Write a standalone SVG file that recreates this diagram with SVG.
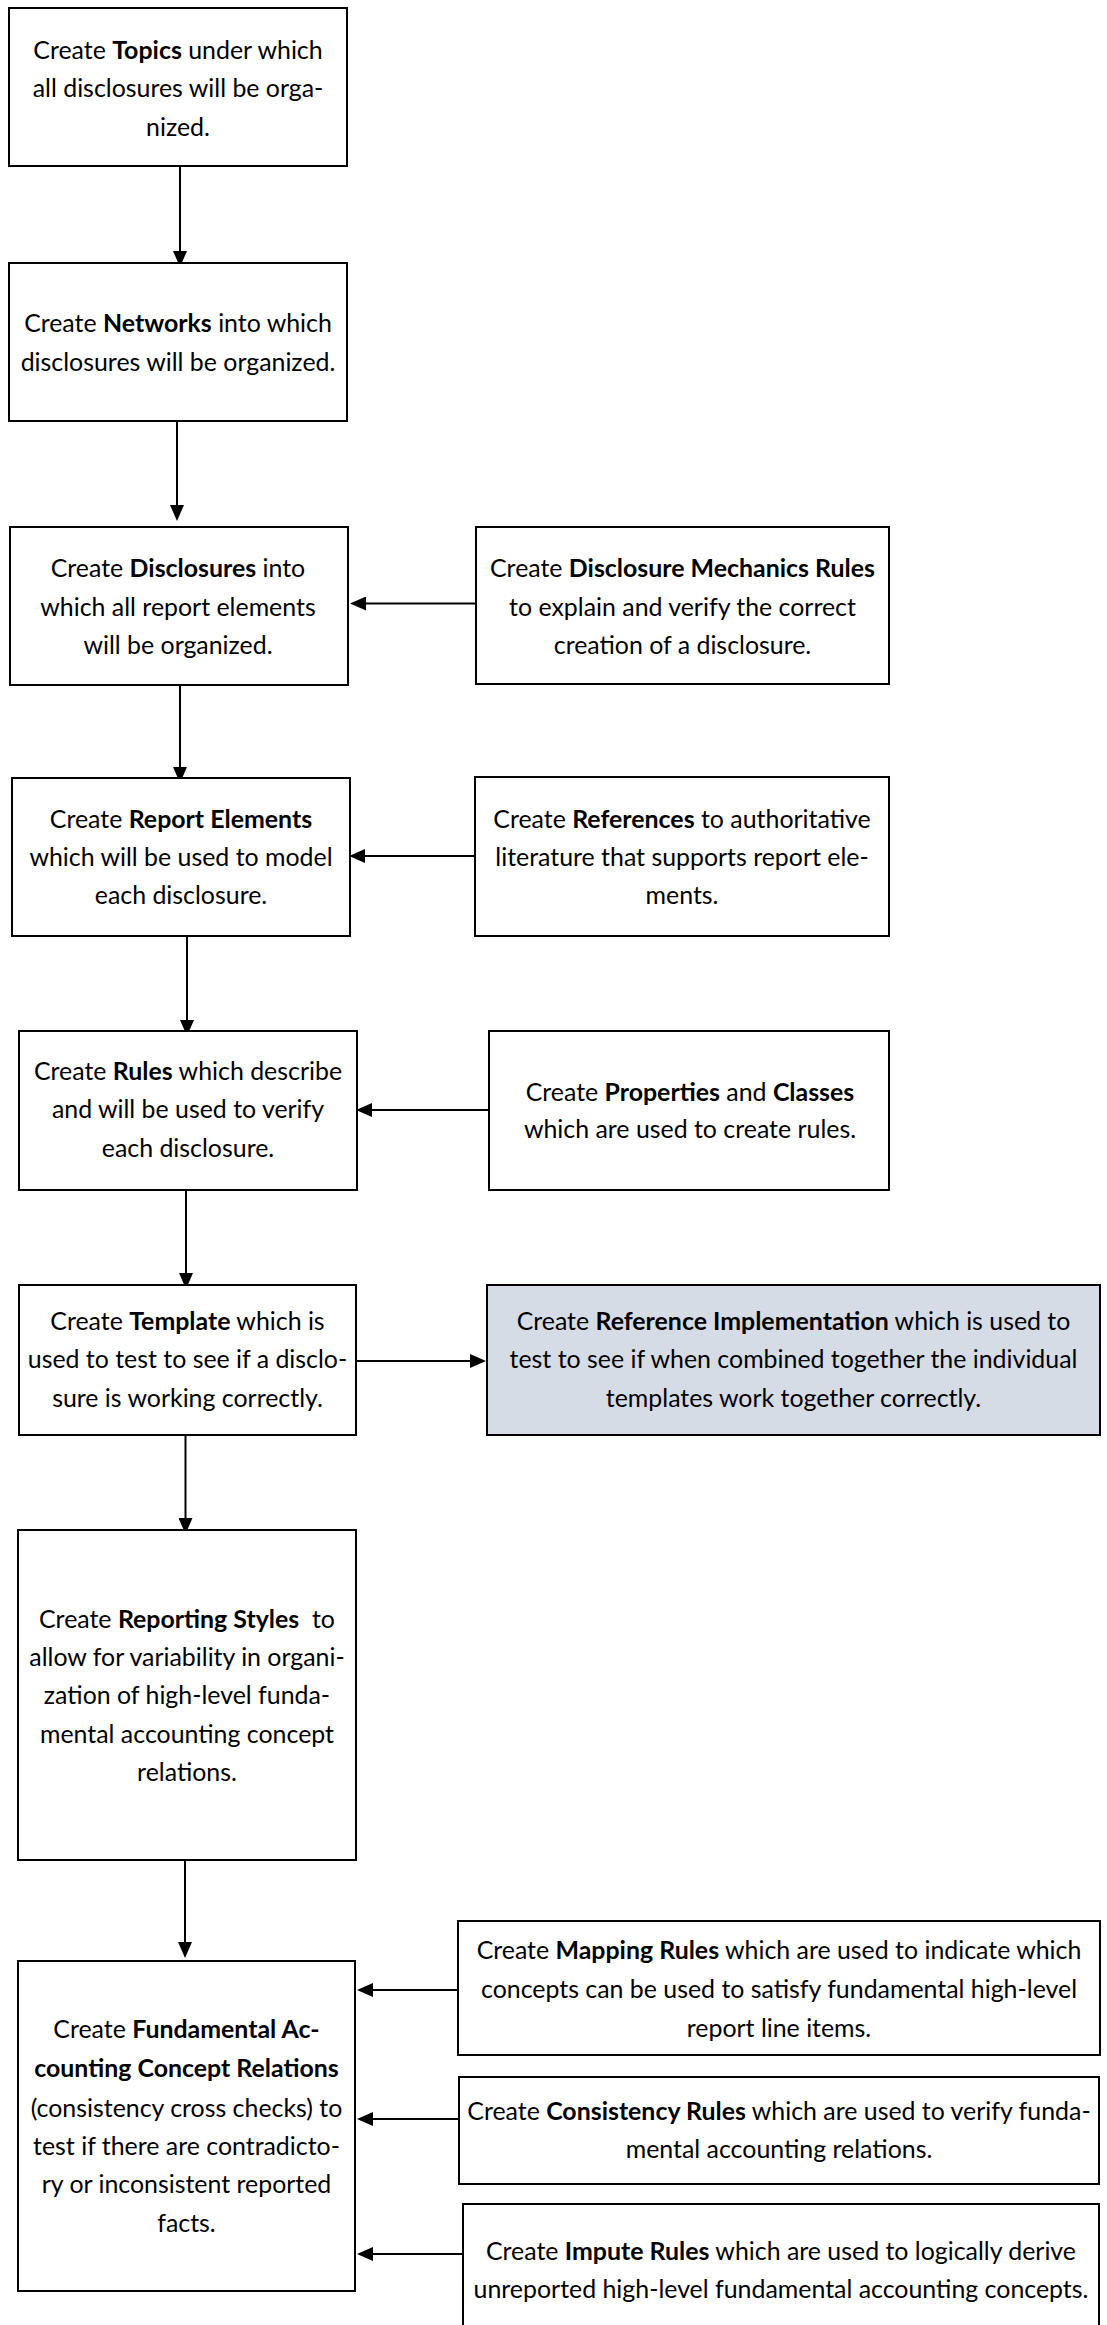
<svg xmlns="http://www.w3.org/2000/svg" width="1107" height="2325" viewBox="0 0 1107 2325">
<style>
.box{fill:#fff;stroke:#000;stroke-width:2}
.hl{fill:#d6dce5}
text{font-family:Lato,"Open Sans","Liberation Sans",sans-serif;font-size:24.9px;fill:#000;text-anchor:middle}
.b{font-weight:bold}
.c{fill:none;stroke:#000;stroke-width:2}
</style>
<defs>
<marker id="ah" markerUnits="userSpaceOnUse" markerWidth="16" markerHeight="14" refX="8" refY="7" orient="auto">
<path d="M0,0 L16,7 L0,14 z" fill="#000"/>
</marker>
</defs>
<rect width="1107" height="2325" fill="#fff"/>

<g id="connectors">
<line class="c" x1="180" y1="166" x2="180" y2="259" marker-end="url(#ah)"/>
<line class="c" x1="177" y1="421" x2="177" y2="513" marker-end="url(#ah)"/>
<line class="c" x1="480" y1="603.5" x2="358" y2="603.5" marker-end="url(#ah)"/>
<line class="c" x1="180" y1="685" x2="180" y2="775" marker-end="url(#ah)"/>
<line class="c" x1="480" y1="856" x2="357" y2="856" marker-end="url(#ah)"/>
<line class="c" x1="187" y1="936" x2="187" y2="1028" marker-end="url(#ah)"/>
<line class="c" x1="489" y1="1110" x2="364" y2="1110" marker-end="url(#ah)"/>
<line class="c" x1="186" y1="1190" x2="186" y2="1281" marker-end="url(#ah)"/>
<line class="c" x1="357" y1="1361" x2="478" y2="1361" marker-end="url(#ah)"/>
<line class="c" x1="185.5" y1="1435" x2="185.5" y2="1526" marker-end="url(#ah)"/>
<line class="c" x1="185" y1="1860" x2="185" y2="1950" marker-end="url(#ah)"/>
<line class="c" x1="458" y1="1990" x2="365" y2="1990" marker-end="url(#ah)"/>
<line class="c" x1="459" y1="2119" x2="365" y2="2119" marker-end="url(#ah)"/>
<line class="c" x1="463" y1="2254" x2="365" y2="2254" marker-end="url(#ah)"/>
</g>

<g id="topics">
<rect class="box" x="9" y="8" width="338" height="158"/>
<text x="178" y="59">Create <tspan class="b">Topics</tspan> under which</text>
<text x="178" y="97">all disclosures will be orga-</text>
<text x="178" y="136">nized.</text>
</g>

<g id="networks">
<rect class="box" x="9" y="263" width="338" height="158"/>
<text x="178" y="332">Create <tspan class="b">Networks</tspan> into which</text>
<text x="178" y="371">disclosures will be organized.</text>
</g>

<g id="disclosures">
<rect class="box" x="10" y="527" width="338" height="158"/>
<text x="178" y="577">Create <tspan class="b">Disclosures</tspan> into</text>
<text x="178" y="616">which all report elements</text>
<text x="178" y="654">will be organized.</text>
</g>

<g id="mechanics-rules">
<rect class="box" x="476" y="527" width="413" height="157"/>
<text x="682.5" y="577">Create <tspan class="b">Disclosure Mechanics Rules</tspan></text>
<text x="682.5" y="616">to explain and verify the correct</text>
<text x="682.5" y="654">creation of a disclosure.</text>
</g>

<g id="report-elements">
<rect class="box" x="12" y="778" width="338" height="158"/>
<text x="181" y="828">Create <tspan class="b">Report Elements</tspan></text>
<text x="181" y="866">which will be used to model</text>
<text x="181" y="904">each disclosure.</text>
</g>

<g id="references">
<rect class="box" x="475" y="777" width="414" height="159"/>
<text x="682" y="828">Create <tspan class="b">References</tspan> to authoritative</text>
<text x="682" y="866">literature that supports report ele-</text>
<text x="682" y="904">ments.</text>
</g>

<g id="rules">
<rect class="box" x="19" y="1031" width="338" height="159"/>
<text x="188" y="1080">Create <tspan class="b">Rules</tspan> which describe</text>
<text x="188" y="1118">and will be used to verify</text>
<text x="188" y="1157">each disclosure.</text>
</g>

<g id="properties">
<rect class="box" x="489" y="1031" width="400" height="159"/>
<text x="690" y="1101">Create <tspan class="b">Properties</tspan> and <tspan class="b">Classes</tspan></text>
<text x="690" y="1138">which are used to create rules.</text>
</g>

<g id="template">
<rect class="box" x="19" y="1285" width="337" height="150"/>
<text x="187.5" y="1330">Create <tspan class="b">Template</tspan> which is</text>
<text x="187.5" y="1368">used to test to see if a disclo-</text>
<text x="187.5" y="1407">sure is working correctly.</text>
</g>

<g id="reference-implementation">
<rect class="box hl" x="487" y="1285" width="613" height="150"/>
<text x="793.5" y="1330">Create <tspan class="b">Reference Implementation</tspan> which is used to</text>
<text x="793.5" y="1368">test to see if when combined together the individual</text>
<text x="793.5" y="1407">templates work together correctly.</text>
</g>

<g id="reporting-styles">
<rect class="box" x="18" y="1530" width="338" height="330"/>
<text x="187" y="1628">Create <tspan class="b">Reporting Styles</tspan> &#160;to</text>
<text x="187" y="1666">allow for variability in organi-</text>
<text x="187" y="1704">zation of high-level funda-</text>
<text x="187" y="1743">mental accounting concept</text>
<text x="187" y="1781">relations.</text>
</g>

<g id="fundamental-relations">
<rect class="box" x="18" y="1961" width="337" height="330"/>
<text x="186.5" y="2038">Create <tspan class="b">Fundamental Ac-</tspan></text>
<text x="186.5" y="2077" class="b">counting Concept Relations</text>
<text x="186.5" y="2117">(consistency cross checks) to</text>
<text x="186.5" y="2155">test if there are contradicto-</text>
<text x="186.5" y="2193">ry or inconsistent reported</text>
<text x="186.5" y="2232">facts.</text>
</g>

<g id="mapping-rules">
<rect class="box" x="458" y="1921" width="642" height="134"/>
<text x="779" y="1959">Create <tspan class="b">Mapping Rules</tspan> which are used to indicate which</text>
<text x="779" y="1998">concepts can be used to satisfy fundamental high-level</text>
<text x="779" y="2037">report line items.</text>
</g>

<g id="consistency-rules">
<rect class="box" x="459" y="2077" width="640" height="107"/>
<text x="779" y="2120">Create <tspan class="b">Consistency Rules</tspan> which are used to verify funda-</text>
<text x="779" y="2158">mental accounting relations.</text>
</g>

<g id="impute-rules">
<rect class="box" x="463" y="2204" width="636" height="140"/>
<text x="781" y="2260">Create <tspan class="b">Impute Rules</tspan> which are used to logically derive</text>
<text x="781" y="2298">unreported high-level fundamental accounting concepts.</text>
</g>
</svg>
